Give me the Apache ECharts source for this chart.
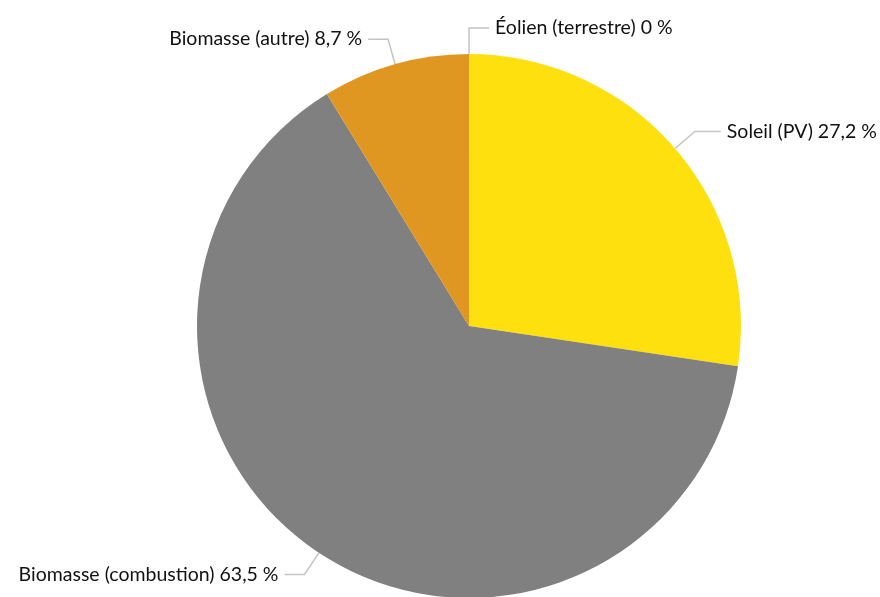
<!DOCTYPE html>
<html>
<head>
<meta charset="utf-8">
<script src="https://cdn.jsdelivr.net/npm/echarts@6/dist/echarts.min.js"></script>
<style>
  html, body { margin: 0; padding: 0; background: #ffffff; }
  #chart { width: 880px; height: 597px; }
</style>
</head>
<body>
<div id="chart"></div>
<script>
// Part des sources de production (%)
const categories = ['Éolien (terrestre)', 'Soleil (PV)', 'Biomasse (combustion)', 'Biomasse (autre)'];
const values = [0, 27.2, 63.5, 8.7];
const colors = ['#4a7ebb', '#ffe00f', '#808080', '#df9722'];
// horizontal leader segment per slice
const leaderTail = [20, 26, 20, 20];

const data = categories.map((name, i) => ({
  name: name,
  value: values[i],
  itemStyle: { color: colors[i] },
  labelLine: { length2: leaderTail[i] }
}));

const chart = echarts.init(document.getElementById('chart'), null, { renderer: 'canvas' });
chart.setOption({
  animation: false,
  series: [{
    type: 'pie',
    center: [469, 326],
    radius: 272,
    startAngle: 90,
    clockwise: true,
    avoidLabelOverlap: false,
    // keep a hairline sector so the zero share still gets its label
    minAngle: 0.01,
    data: data,
    itemStyle: { borderWidth: 0 },
    label: {
      show: true,
      formatter: p => p.name + ' ' + String(p.value).replace('.', ',') + ' %',
      fontFamily: 'Lato, "Open Sans", sans-serif',
      fontSize: 19.5,
      color: '#111111',
      distanceToLabelLine: 6
    },
    labelLine: {
      show: true,
      length: 26,
      length2: 20,
      lineStyle: { color: '#c4c4c4', width: 1.5 }
    },
    emphasis: { disabled: true }
  }]
});
</script>
</body>
</html>
